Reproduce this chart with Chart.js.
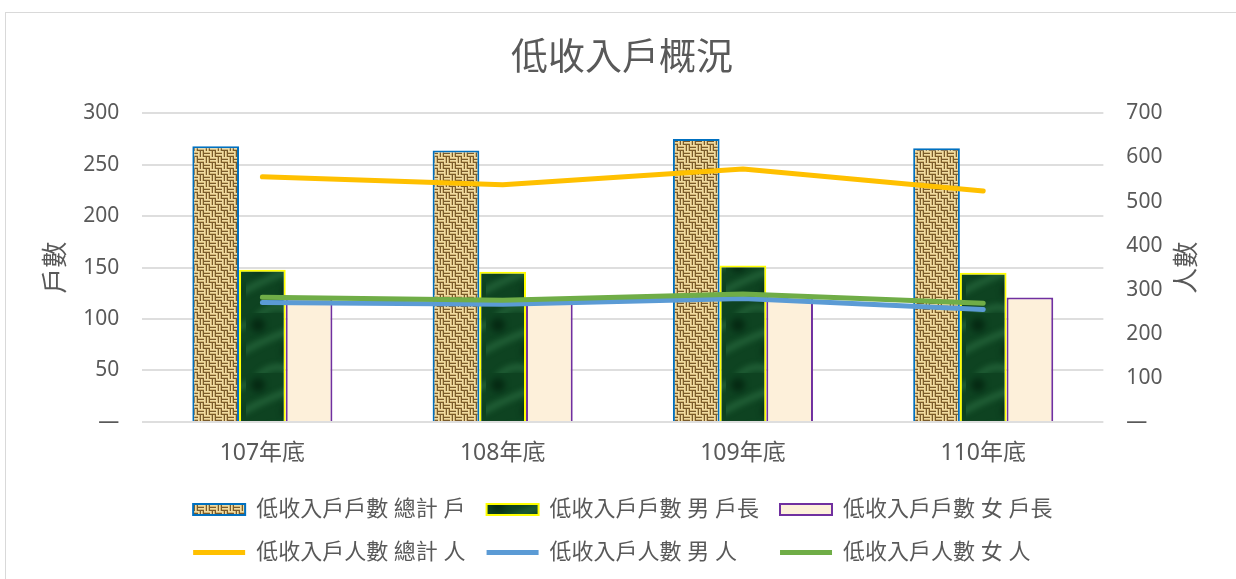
<!DOCTYPE html>
<html>
<head>
<meta charset="utf-8">
<script src="https://cdn.jsdelivr.net/npm/chart.js@4"></script>
<style>
  html, body { margin: 0; padding: 0; background: #fff; }
  #box {
    position: absolute; left: 5px; top: 12px;
    width: 1231px; height: 567px;
    border-left: 1px solid #d9d9d9; border-top: 1px solid #d9d9d9;
  }
  canvas { display: block; }
</style>
</head>
<body>
<div id="box"><canvas id="chart" width="1230" height="566"></canvas></div>
<script>
// 資料
const categories = ["107年底", "108年底", "109年底", "110年底"];
const householdsTotal = [268, 264, 275, 266];
const householdsMale = [148, 146, 152, 145];
const householdsFemale = [120, 118, 123, 121];
const personsTotal = [556, 538, 574, 524];
const personsMale = [271, 267, 280, 255];
const personsFemale = [283, 276, 290, 269];

const chartTitle = "低收入戶概況";
const leftTitle = "戶數";
const rightTitle = "人數";

const FONT = '"Noto Sans", "Noto Sans CJK TC", sans-serif';
const TEXT = "#595959";

// 材質: 麻布
function weavePattern(ctx) {
    const c = document.createElement("canvas");
    c.width = 12; c.height = 12;
    const g = c.getContext("2d");
    g.fillStyle = "#c3a262";
    g.fillRect(0, 0, 12, 12);
    for (let by = 0; by < 2; by++) {
        for (let bx = 0; bx < 2; bx++) {
            const horiz = (bx + by) % 2 === 0;
            for (let k = 0; k < 6; k++) {
                const m = k % 3;
                g.fillStyle = m === 2 ? "#7a5b2b" : (m === 0 ? "#efdba2" : "#d4b778");
                if (horiz) g.fillRect(bx * 6, by * 6 + k, 6, 1);
                else g.fillRect(bx * 6 + k, by * 6, 1, 6);
            }
        }
    }
    return ctx.createPattern(c, "repeat");
}

// 材質: 綠色大理石
function marblePattern(ctx) {
    const c = document.createElement("canvas");
    c.width = 60; c.height = 60;
    const g = c.getContext("2d");
    g.fillStyle = "#0e4321";
    g.fillRect(0, 0, 60, 60);
    g.filter = "blur(3px)";
    g.strokeStyle = "rgba(70,150,95,0.55)";
    g.lineWidth = 4;
    g.beginPath();
    g.moveTo(-5, 40); g.quadraticCurveTo(20, 25, 65, 10);
    g.moveTo(10, 65); g.quadraticCurveTo(30, 45, 50, 62);
    g.stroke();
    g.fillStyle = "rgba(3,35,15,0.8)";
    g.beginPath(); g.arc(45, 38, 9, 0, Math.PI * 2); g.fill();
    g.beginPath(); g.arc(12, 12, 7, 0, Math.PI * 2); g.fill();
    return ctx.createPattern(c, "repeat");
}

const canvas = document.getElementById("chart");
const ctx = canvas.getContext("2d");

// 右軸標題改成與左軸相同方向
const rightTitlePlugin = {
    id: "rightTitle",
    afterDraw(chart) {
        const s = chart.scales.y1;
        const c = chart.ctx;
        c.save();
        c.translate(s.right - 6 - 26 * 1.2 / 2, (s.top + s.bottom) / 2);
        c.rotate(-Math.PI / 2);
        c.font = "26px " + FONT;
        c.fillStyle = TEXT;
        c.textAlign = "center";
        c.textBaseline = "middle";
        c.fillText(rightTitle, 0, 0);
        c.restore();
    }
};

// 圖例第二列補空白讓欄位對齊
const legendPad = { 4: "\u3000", 5: "\u3000" };

new Chart(ctx, {
    data: {
        labels: categories,
        datasets: [
            { type: "bar", label: "低收入戶戶數 總計 戶", data: householdsTotal, yAxisID: "y", order: 3,
              backgroundColor: weavePattern(ctx), borderColor: "#0070C0", borderWidth: 2 },
            { type: "bar", label: "低收入戶戶數 男 戶長", data: householdsMale, yAxisID: "y", order: 3,
              backgroundColor: marblePattern(ctx), borderColor: "#FFFF00", borderWidth: 2 },
            { type: "bar", label: "低收入戶戶數 女 戶長", data: householdsFemale, yAxisID: "y", order: 3,
              backgroundColor: "#FDF0DA", borderColor: "#7030A0", borderWidth: 2 },
            { type: "line", label: "低收入戶人數 總計 人", data: personsTotal, yAxisID: "y1", order: 2,
              borderColor: "#FFC000", backgroundColor: "#FFC000", borderWidth: 5, pointRadius: 0,
              borderCapStyle: "round", borderJoinStyle: "round", tension: 0 },
            { type: "line", label: "低收入戶人數 男 人", data: personsMale, yAxisID: "y1", order: 1,
              borderColor: "#5B9BD5", backgroundColor: "#5B9BD5", borderWidth: 5, pointRadius: 0,
              borderCapStyle: "round", borderJoinStyle: "round", tension: 0 },
            { type: "line", label: "低收入戶人數 女 人", data: personsFemale, yAxisID: "y1", order: 0,
              borderColor: "#70AD47", backgroundColor: "#70AD47", borderWidth: 5, pointRadius: 0,
              borderCapStyle: "round", borderJoinStyle: "round", tension: 0 }
        ]
    },
    options: {
        responsive: false,
        animation: false,
        devicePixelRatio: 1,
        layout: { padding: { top: 10, left: 29, right: 27, bottom: 5.5 } },
        datasets: { bar: { categoryPercentage: 0.583, barPercentage: 1 } },
        scales: {
            x: {
                offset: true,
                grid: { display: false },
                border: { display: false },
                ticks: { color: TEXT, font: { family: FONT, size: 23 }, padding: 10 }
            },
            y: {
                position: "left",
                min: 0, max: 300,
                grid: { color: "#dedede", lineWidth: 2, drawTicks: false },
                border: { display: false },
                ticks: {
                    stepSize: 50, padding: 23, color: TEXT, font: { family: FONT, size: 21 },
                    callback: v => v === 0 ? "—" : v
                },
                // 刻度間距會被算兩次，用負的 bottom 抵掉
                title: { display: true, text: leftTitle, color: TEXT, font: { family: FONT, size: 26 },
                         padding: { top: 6, bottom: -12 } }
            },
            y1: {
                position: "right",
                min: 0, max: 700,
                grid: { drawOnChartArea: false, drawTicks: false },
                border: { display: false },
                ticks: {
                    stepSize: 100, padding: 23, color: TEXT, font: { family: FONT, size: 21 },
                    callback: v => v === 0 ? "—" : v
                },
                title: { display: true, text: rightTitle, color: "rgba(0,0,0,0)", font: { family: FONT, size: 26 },
                         padding: { top: 6, bottom: -13.6 } }
            }
        },
        plugins: {
            title: {
                display: true, text: chartTitle, color: TEXT,
                font: { family: FONT, size: 37, weight: "normal" },
                padding: { top: 14, bottom: 32 }
            },
            legend: {
                position: "bottom",
                fullSize: false,
                labels: {
                    usePointStyle: true,
                    pointStyleWidth: 52,
                    boxHeight: 11,
                    padding: 21,
                    color: TEXT,
                    font: { family: FONT, size: 22 },
                    sort: (a, b) => a.datasetIndex - b.datasetIndex,
                    generateLabels(chart) {
                        const items = Chart.defaults.plugins.legend.labels.generateLabels(chart);
                        items.forEach(item => {
                            const ds = chart.data.datasets[item.datasetIndex];
                            item.pointStyle = ds.type === "line" ? "line" : "rect";
                            item.text = item.text + (legendPad[item.datasetIndex] || "");
                        });
                        return items;
                    }
                }
            },
            tooltip: { enabled: false }
        }
    },
    plugins: [rightTitlePlugin]
});
</script>
</body>
</html>
